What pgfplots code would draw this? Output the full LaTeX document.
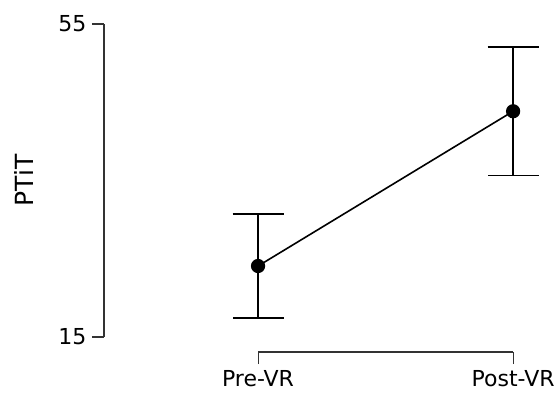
\documentclass[border=0pt]{standalone}
\usepackage{fontspec}
\setmainfont{DejaVu Sans}
\usepackage{pgfplots}
\pgfplotsset{compat=1.18}
\begin{document}
\fontsize{22}{26}\selectfont
\begin{tikzpicture}
\begin{axis}[
 scale only axis, width=454pt, height=352pt,
 xmin=-0.604, xmax=1.176, ymin=13.08, ymax=58.07,
 axis x line*=bottom, axis y line*=left,
 axis line style={draw=none},
 xtick={0,1}, xticklabels={Pre-VR,Post-VR},
 ytick={15,55},
 tick align=outside, major tick length=12pt,
 tick style={line width=1.1pt, color=black!80},
 /pgf/number format/assume math mode=true,
 ticklabel style={font=\fontsize{22}{26}\selectfont},
 xticklabel style={yshift=1pt},
 yticklabel style={xshift=2pt},
 clip=false,
]
\draw[line width=1.1pt, black!80] (axis cs:-0.604,15) -- (axis cs:-0.604,55);
\draw[line width=1.1pt, black!80] (axis cs:0,13.08) -- (axis cs:1,13.08);
\addplot[black, line width=1.6pt, mark=*, mark size=6.3pt,
  error bars/.cd, y dir=both, y explicit, error mark=-,
  error mark options={rotate=90, mark size=25.5pt, line width=1.3pt, black},
  error bar style={line width=1.3pt, black}]
  coordinates {(0,24.07) +- (0,6.66) (1,43.85) +- (0,8.23)};
\node[rotate=90, font=\fontsize{25}{30}\selectfont] at (axis cs:-0.918,35) {PTiT};
\end{axis}
\pgfresetboundingbox
\useasboundingbox (-104pt,-42pt) rectangle (454pt,352pt);
\end{tikzpicture}
\end{document}
